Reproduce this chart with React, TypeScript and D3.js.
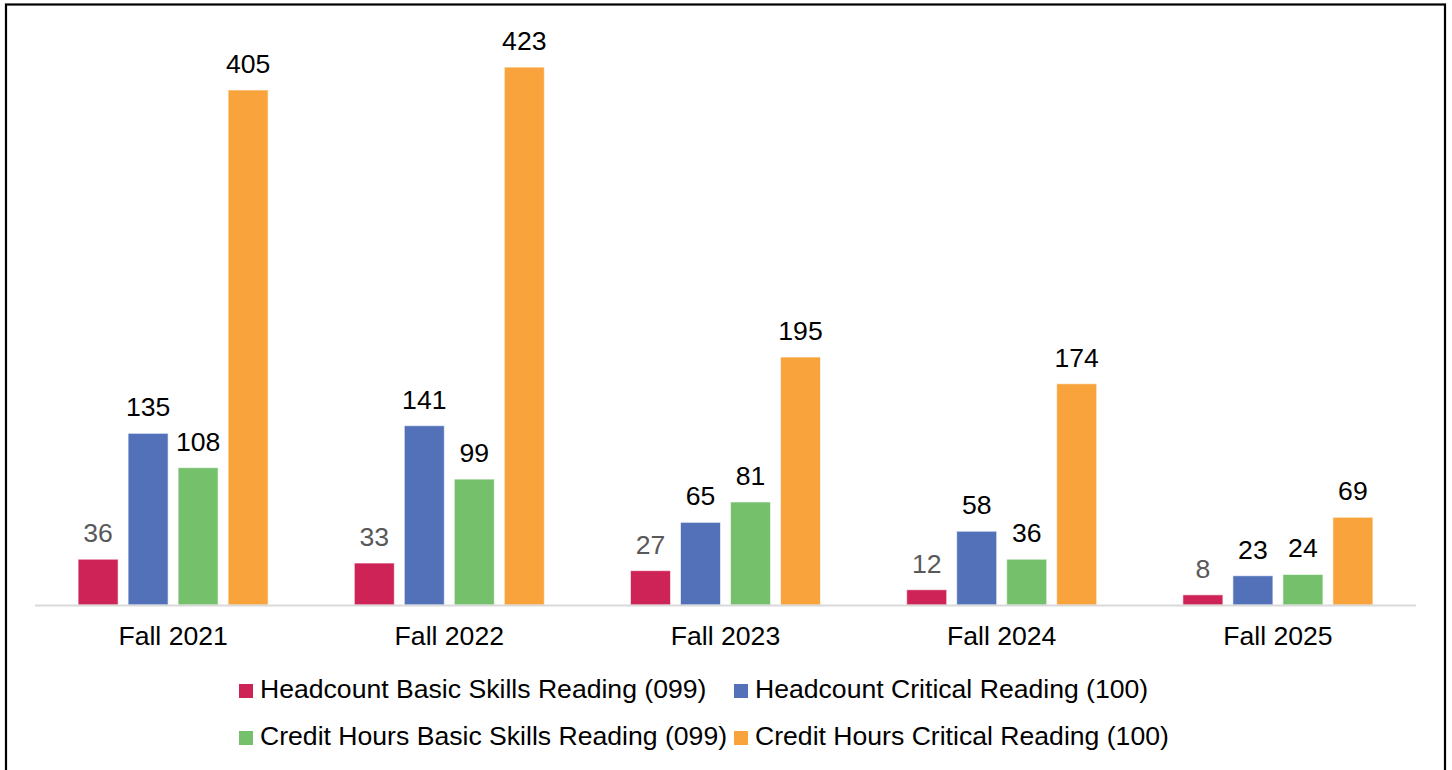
import React from "react";
import * as d3 from "d3";

const categories = ["Fall 2021", "Fall 2022", "Fall 2023", "Fall 2024", "Fall 2025"];
const seriesNames = [
  "Headcount Basic Skills Reading (099)",
  "Headcount Critical Reading (100)",
  "Credit Hours Basic Skills Reading (099)",
  "Credit Hours Critical Reading (100)",
];
const headcountBasic = [36, 33, 27, 12, 8];
const headcountCritical = [135, 141, 65, 58, 23];
const creditBasic = [108, 99, 81, 36, 24];
const creditCritical = [405, 423, 195, 174, 69];
const seriesValues = [headcountBasic, headcountCritical, creditBasic, creditCritical];
const seriesColors = ["#CE2356", "#5271B8", "#74C06B", "#F9A33C"];
const labelColors = ["#595959", "#000", "#000", "#000"];

const W = 1452;
const H = 770;
const FONT = "Arial, 'Liberation Sans', sans-serif";
const FS = 26.6;

export default function App() {
  const x0 = d3.scaleBand<string>().domain(categories).range([35, 1416]);
  const x1 = d3
    .scaleBand<number>()
    .domain(d3.range(seriesNames.length))
    .range([0, 200])
    .paddingInner(0.2)
    .paddingOuter(0.1);
  const y = d3.scaleLinear().domain([0, 405]).range([605, 90]);

  const legendItems = [
    { i: 0, x: 239, y: 698 },
    { i: 1, x: 734, y: 698 },
    { i: 2, x: 239, y: 745 },
    { i: 3, x: 734, y: 745 },
  ];

  return (
    <svg
      width={W}
      height={H}
      style={{ position: "absolute", left: 0, top: 0, background: "#fff" }}
      fontFamily={FONT}
    >
      <rect x={0} y={0} width={W} height={H} fill="#fff" />
      <rect x={6} y={4.5} width={1439} height={800} fill="none" stroke="#000" strokeWidth={2.2} />
      {categories.map((c, ci) => {
        const gx = (x0(c) as number) + x0.bandwidth() / 2 - 100;
        return (
          <g key={c}>
            {seriesValues.map((vals, si) => {
              const v = vals[ci];
              const bx = gx + (x1(si) as number);
              return (
                <g key={si}>
                  <rect
                    x={bx}
                    y={y(v)}
                    width={x1.bandwidth()}
                    height={y(0) - y(v)}
                    fill={seriesColors[si]}
                    stroke="#fff"
                    strokeOpacity={0.6}
                    strokeWidth={1}
                  />
                  <text
                    x={bx + x1.bandwidth() / 2}
                    y={y(v) - 17}
                    textAnchor="middle"
                    fontSize={FS}
                    fill={labelColors[si]}
                  >
                    {v}
                  </text>
                </g>
              );
            })}
            <text
              x={(x0(c) as number) + x0.bandwidth() / 2}
              y={645}
              textAnchor="middle"
              fontSize={FS}
              fill="#000"
            >
              {c}
            </text>
          </g>
        );
      })}
      <line x1={35} x2={1416} y1={y(0) + 0.5} y2={y(0) + 0.5} stroke="#d9d9d9" strokeWidth={2} />
      {legendItems.map((it) => (
        <g key={it.i}>
          <rect x={it.x} y={it.y - 14} width={14} height={14} fill={seriesColors[it.i]} />
          <text x={it.x + 21} y={it.y} fontSize={FS} fill="#000">
            {seriesNames[it.i]}
          </text>
        </g>
      ))}
    </svg>
  );
}
